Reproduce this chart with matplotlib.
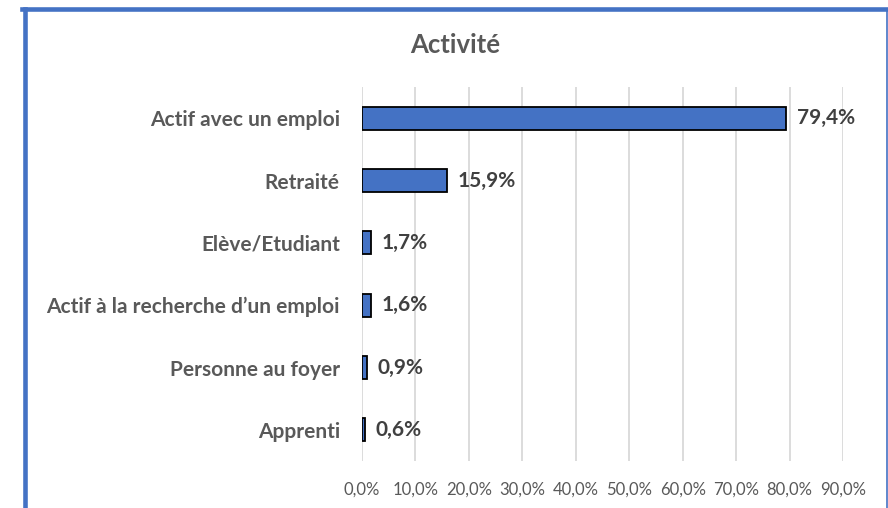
import matplotlib
matplotlib.use("Agg")
import matplotlib.pyplot as plt
from matplotlib.lines import Line2D

categories = ["Actif avec un emploi", "Retraité", "Elève/Etudiant",
              "Actif à la recherche d\u2019un emploi", "Personne au foyer", "Apprenti"]
values = [79.4, 15.9, 1.7, 1.6, 0.9, 0.6]
value_labels = ["79,4%", "15,9%", "1,7%", "1,6%", "0,9%", "0,6%"]
xticks = [0, 10, 20, 30, 40, 50, 60, 70, 80, 90]
xtick_labels = ["0,0%", "10,0%", "20,0%", "30,0%", "40,0%", "50,0%",
                "60,0%", "70,0%", "80,0%", "90,0%"]

plt.rcParams['font.family'] = ['Lato', 'DejaVu Sans']

W, H = 888, 508
fig = plt.figure(figsize=(W / 100, H / 100), dpi=100)

# plot area in pixels
x0, x1 = 362, 843
y0, y1 = 87, 461
ax = fig.add_axes([x0 / W, 1 - y1 / H, (x1 - x0) / W, (y1 - y0) / H])

ypos = list(range(len(categories)))
ax.barh(ypos, values, height=0.37, color="#4472C4", edgecolor="black", linewidth=1.3, zorder=3)
ax.set_ylim(len(categories) - 0.5, -0.5)
ax.set_xlim(0, 90)

for y, v, lab in zip(ypos, values, value_labels):
    ax.text(v + 2.0, y, lab, va="center", ha="left", fontsize=15,
            fontweight="bold", color="#404040")

ax.set_yticks(ypos)
ax.set_yticklabels(categories, fontsize=15, fontweight="bold", color="#595959")
ax.set_xticks(xticks)
ax.set_xticklabels(xtick_labels, fontsize=12, color="#595959")
ax.tick_params(axis="both", length=0)
ax.tick_params(axis="y", pad=16)
ax.tick_params(axis="x", pad=15)
ax.grid(axis="x", color="#D9D9D9", linewidth=1.3, zorder=0)
for s in ax.spines.values():
    s.set_visible(False)

fig.text(455 / W, 1 - 45 / H, "Activité", ha="center", va="center",
         fontsize=18.5, fontweight="bold", color="#595959")

# chart border (blue frame, cut at bottom)
fig.add_artist(Line2D([24.5 / W, 24.5 / W], [0, 1 - 9 / H], color="#4472C4", linewidth=3.3))
fig.add_artist(Line2D([22 / W, 887.5 / W], [1 - 9 / H, 1 - 9 / H], color="#4472C4", linewidth=3.3))
fig.add_artist(Line2D([887 / W, 887 / W], [0, 1 - 9 / H], color="#4472C4", linewidth=1.2))

fig.savefig("out.png", dpi=100)
